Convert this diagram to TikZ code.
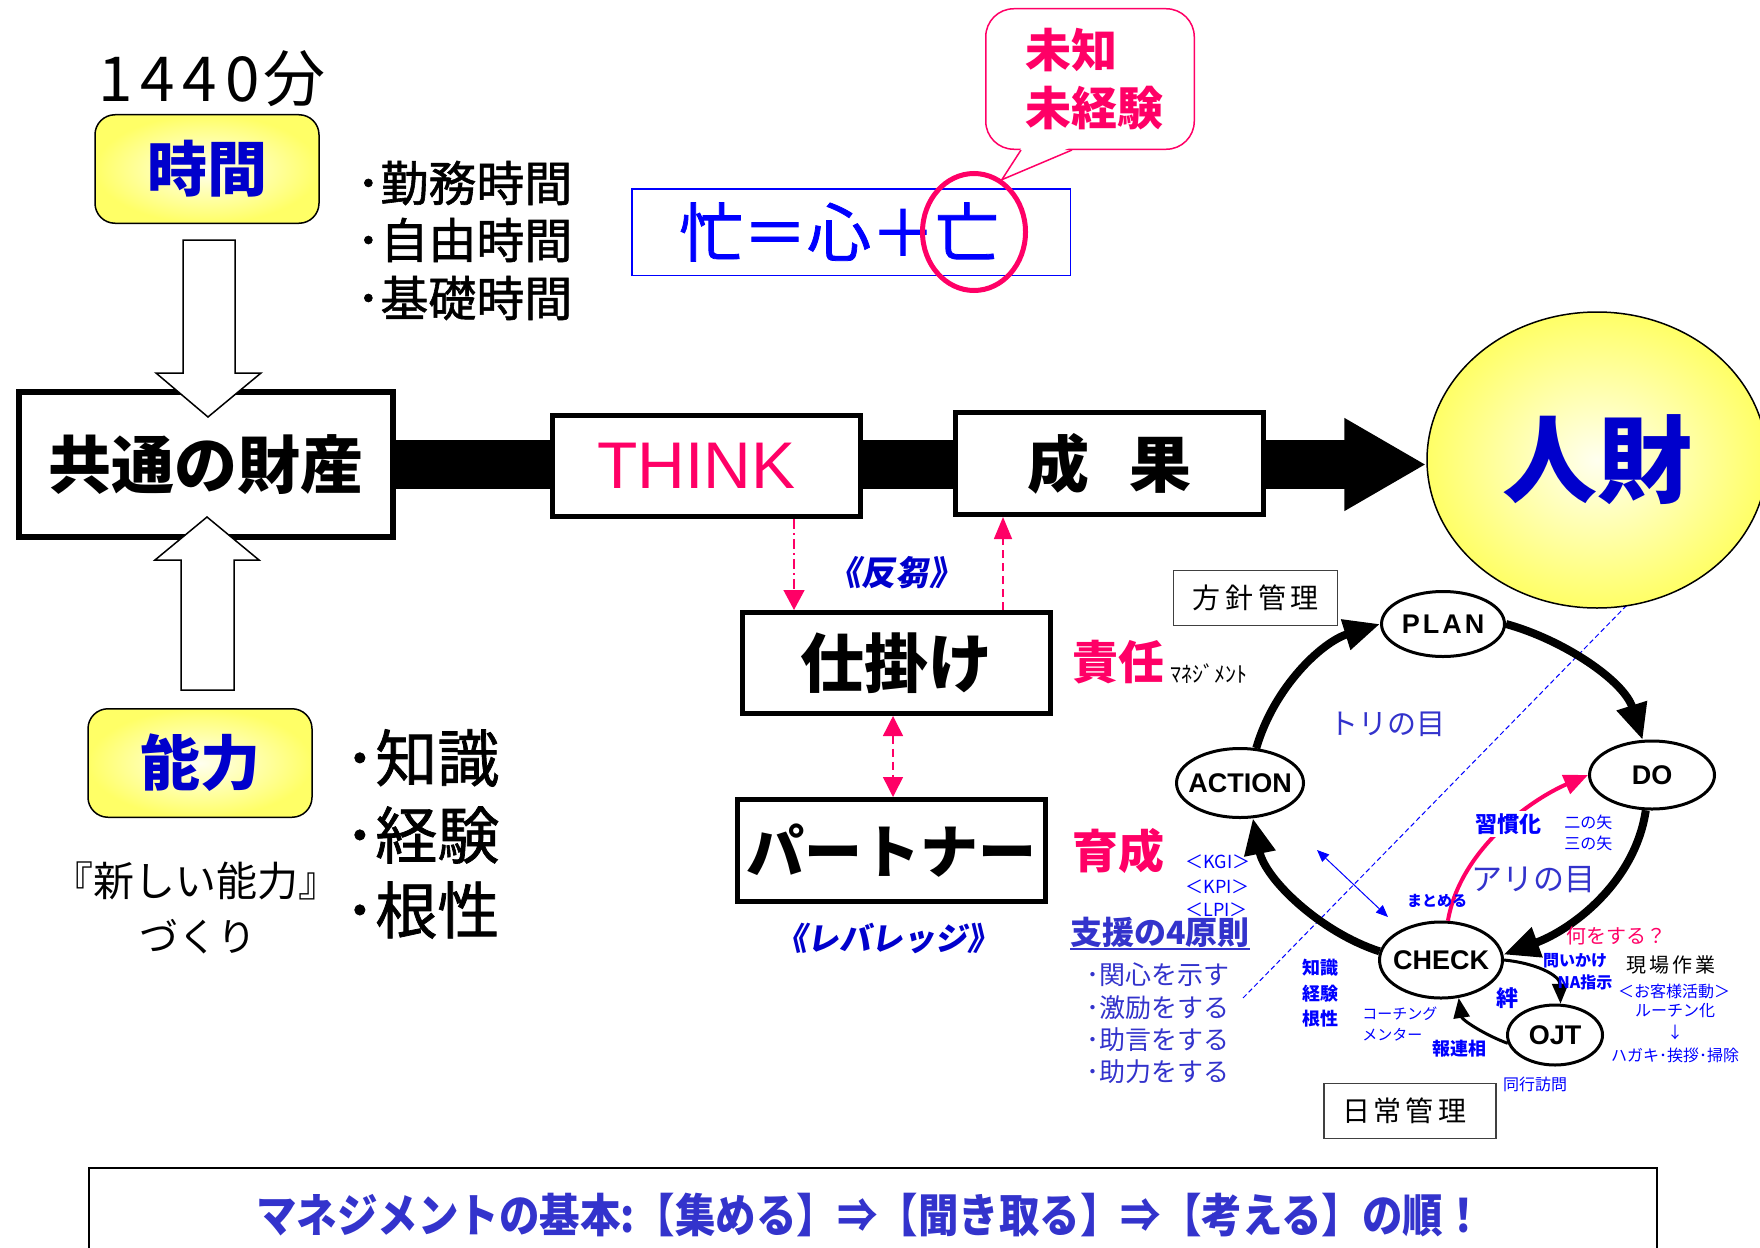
\documentclass[tikz,border=0pt]{standalone}
\usepackage{graphicx}
\usepackage{fontspec}
\setmainfont{Noto Sans CJK JP}
\newfontfamily\jpsl[FakeSlant=0.15]{Noto Sans CJK JP}
\newfontfamily\jpmed[FakeBold=1.2]{Noto Sans CJK JP}
\newfontfamily\arial{Liberation Sans}
\usetikzlibrary{arrows.meta,shapes.geometric,backgrounds,calc}
\definecolor{pinkc}{HTML}{FF0066}
\definecolor{dblue}{HTML}{0000CC}
\definecolor{mblue}{HTML}{3333CC}
\definecolor{bblue}{HTML}{0000FF}
\definecolor{yel}{HTML}{FFFF66}
\newcommand\fsz[1]{\fontsize{#1}{#1}\selectfont}
\begin{document}
\begin{tikzpicture}[x=0.5pt,y=-0.5pt, every node/.style={inner sep=0pt}]
\tikzset{
 tbox/.style={draw, line width=2.5pt, fill=white, minimum width=154pt, minimum height=50.5pt},
 rbox/.style={draw, line width=0.75pt, rounded corners=10pt, inner color=yel!10!white, outer color=yel, minimum width=112pt, minimum height=54.25pt, font=\fsz{30pt}\bfseries, text=dblue},
 cyc/.style={ellipse, draw, line width=1.5pt, fill=white, font=\arial\bfseries\fsz{13.5pt}},
 cycarrow/.style={line width=4pt, arrows={-Triangle[length=18pt,width=15pt]}},
 smallarrow/.style={line width=1.5pt, arrows={-Triangle[length=10pt,width=8pt]}},
 pdash/.style={pinkc, line width=0.75pt, dash pattern=on 4pt off 2.5pt},
 hollow/.style={draw, line width=0.75pt, fill=white},
 mgr/.style={draw=black!75, line width=0.75pt, fill=white, minimum height=27.5pt, font=\fsz{14pt}},
 band/.style={line width=24.5pt, arrows={-Triangle[length=41pt,width=43.5pt]}},
}
\useasboundingbox (0,0) rectangle (1760,1247);
\clip (0,0) rectangle (1760,1247);

% ---------- left column
\node[font=\fsz{31pt}] (t1440) at (212,79) {1\kern4pt 4\kern4pt 4\kern4pt 0\kern2pt 分};
\node[rbox] (jikan) at (207,169) {時間};
\node[anchor=west, font=\jpmed\fsz{24pt}] (k1) at (356,183) {･勤務時間};
\node[anchor=west, font=\jpmed\fsz{24pt}] (k2) at (356,240) {･自由時間};
\node[anchor=west, font=\jpmed\fsz{24pt}] (k3) at (356,298) {･基礎時間};

\node[tbox, line width=3pt, minimum width=187pt, minimum height=72.5pt, font=\fsz{31.5pt}\bfseries] (common) at (206,464.5) {共通の財産};

\node[rbox] (nouryoku) at (200,763) {能力};
\node[font=\fsz{20.5pt}] (atarashii) at (196,881) {『新しい能力』};
\node[font=\fsz{19.5pt}] (dukuri) at (198,937) {づくり};
\node[anchor=west, font=\jpmed\fsz{31pt}] (n1) at (344,758) {･知識};
\node[anchor=west, font=\jpmed\fsz{31pt}] (n2) at (344,835) {･経験};
\node[anchor=west, font=\jpmed\fsz{31pt}] (n3) at (344,910) {･根性};

% hollow block arrows
\draw[hollow] (183,240) -- (235,240) -- (235,373) -- (261,373) -- (208,417) -- (156,373) -- (183,373) -- cycle;
\draw[hollow] (181,690) -- (234,690) -- (234,560) -- (259,560) -- (207,517) -- (155,560) -- (181,560) -- cycle;

% ---------- main row
\node[tbox, text=pinkc, font=\arial\fsz{33pt}] (think) at (706.5,466) {\hspace*{-10pt}THINK};
\node[tbox, minimum height=51pt, font=\fsz{31pt}\bfseries] (seika) at (1109.5,463.5) {成\hspace{20pt}果};
\node[ellipse, draw, line width=0.75pt, inner color=yel!10!white, outer color=yel, minimum width=170pt, minimum height=148pt, font=\fsz{47.5pt}\bfseries, text=dblue] (jinzai) at (1597,460) {人財};

% ---------- top: bou box and callout
\node[draw=bblue, line width=0.75pt, minimum width=219.25pt, minimum height=43.25pt, font=\jpmed\fsz{32pt}, text=bblue] (bou) at (851,232) {\hspace*{-12pt}忙＝心＋亡};
\node[ellipse, draw=pinkc, line width=2.5pt, minimum width=51.5pt, minimum height=58.5pt] (mark) at (974,232) {};
\node[draw=pinkc, line width=0.75pt, rounded corners=14pt, fill=white, minimum width=104.25pt, minimum height=70.25pt, align=left, font=\fontsize{23pt}{29pt}\selectfont\bfseries, text=pinkc] (callout) at (1090,79) {\hspace*{4pt}未知\\\hspace*{4pt}未経験};
\path (callout.south -| 1021,0) coordinate (tl) (callout.south -| 1072,0) coordinate (tr);
\fill[white] ($(tl)+(1,-3)$) -- (mark.62) -- ($(tr)+(-1,-3)$) -- cycle;
\draw[pinkc, line width=0.75pt] (tl) -- (mark.62) -- (tr);

% ---------- middle column
\node[tbox, font=\fsz{32pt}\bfseries] (shikake) at (896.5,663) {仕掛け};
\node[tbox, minimum height=51pt, font=\fsz{29pt}\bfseries] (partner) at (891.5,850.5) {パートナー};
\draw[pdash, dash pattern=on 5pt off 2pt on 1pt off 2pt, arrows={-Triangle[length=10pt,width=10.5pt]}] (think.south -| 794,0) -- (shikake.north -| 794,0);
\draw[pdash, arrows={-Triangle[length=11pt,width=9pt]}] (shikake.north -| 1003,0) -- (seika.south -| 1003,0);
\draw[pdash, arrows={Triangle[length=10pt,width=10pt]-Triangle[length=10pt,width=10pt]}] (shikake.south -| 893,0) -- (partner.north -| 893,0);

\node[font=\jpsl\fsz{17pt}\bfseries, text=dblue] (hansu) at (895,573) {《反芻》};
\node[font=\jpsl\fsz{16pt}\bfseries, text=dblue] (lev) at (887,938) {《レバレッジ》};
\node[font=\fsz{23pt}\bfseries, text=pinkc] (sekinin) at (1118,662) {責任};
\node[anchor=west, font=\fsz{11pt}] (mane) at (1170,674) {ﾏﾈｼﾞﾒﾝﾄ};
\node[font=\fsz{23pt}\bfseries, text=pinkc] (ikusei) at (1118,851) {育成};
\node[anchor=west, font=\fsz{9pt}, text=bblue] (kgi) at (1185,862) {＜KGI＞};
\node[anchor=west, font=\fsz{9pt}, text=bblue] (kpi) at (1185,887) {＜KPI＞};
\node[anchor=west, font=\fsz{9pt}, text=bblue] (lpi) at (1185,910) {＜LPI＞};
\node[anchor=west, font=\fsz{16pt}\bfseries, text=mblue] (shien) at (1070,932) {支援の4原則};
\draw[mblue, line width=1pt] ([yshift=-0.5pt]shien.south west) -- ([yshift=-0.5pt]shien.south east);
\node[anchor=west, font=\fsz{13pt}, text=mblue] (s1) at (1086,975) {･関心を示す};
\node[anchor=west, font=\fsz{13pt}, text=mblue] (s2) at (1086,1008) {･激励をする};
\node[anchor=west, font=\fsz{13pt}, text=mblue] (s3) at (1086,1040) {･助言をする};
\node[anchor=west, font=\fsz{13pt}, text=mblue] (s4) at (1086,1072) {･助力をする};

% ---------- PDCA cycle
\node[mgr, minimum width=82pt] (houshin) at (1255.5,598) {方\hspace{2.5pt}針\hspace{2.5pt}管\hspace{2.5pt}理};
\node[mgr, minimum width=86pt] (nichijou) at (1410,1111) {\hspace*{-6pt}日\hspace{2pt}常\hspace{2pt}管\hspace{2pt}理};

\node[cyc, minimum width=61.5pt, minimum height=32.5pt] (plan) at (1443,624) {\makebox[0pt]{P\kern1.5pt L\kern1.5pt A\kern1.5pt N}};
\node[cyc, minimum width=62.5pt, minimum height=34pt] (do) at (1652,775) {\makebox[0pt]{DO}};
\node[cyc, minimum width=63.5pt, minimum height=34.5pt] (action) at (1240,783) {\makebox[0pt]{ACTION}};
\node[cyc, minimum width=61.5pt, minimum height=38pt] (check) at (1441,960) {\makebox[0pt]{CHECK}};
\node[cyc, minimum width=47.5pt, minimum height=30pt] (ojt) at (1555,1035) {\makebox[0pt]{OJT}};

\draw[cycarrow] (action.65) .. controls (1274,687) and (1322,642) .. (plan.west);
\draw[cycarrow] (plan.east) .. controls (1564,640) and (1624,681) .. (do.105);
\draw[cycarrow] (do.260) .. controls (1635,883) and (1571,930) .. (check.5);
\draw[cycarrow] (check.172) .. controls (1320,932) and (1265,879) .. (action.290);
\draw[smallarrow] (check.east) .. controls (1535,963) and (1560,975) .. (ojt.80);
\draw[smallarrow] (ojt.190) .. controls (1485,1035) and (1462,1020) .. (check.295);
\draw[pinkc, line width=2pt, arrows={-Triangle[length=12pt,width=10pt]}] (check.80) .. controls (1460,850) and (1530,800) .. (do.west);

\coordinate (e1) at (1317,850);
\coordinate (e2) at (1388,917);
\draw[bblue, line width=0.5pt, arrows={Triangle[length=6pt,width=5pt]-Triangle[length=6pt,width=5pt]}] (e1) -- (e2);

\node[font=\fsz{14.5pt}, text=mblue] (tori) at (1387,724) {トリの目};
\node[font=\fsz{15.5pt}, text=mblue] (ari) at (1533,880) {アリの目};
\node[font=\fsz{11pt}\bfseries, text=bblue, fill=white, inner sep=1pt] (shuukan) at (1508,824) {習慣化};
\node[anchor=west, font=\fsz{8pt}, text=bblue] (ni) at (1564,822) {二の矢};
\node[anchor=west, font=\fsz{8pt}, text=bblue] (san) at (1564,843) {三の矢};
\node[font=\fsz{7.5pt}\bfseries, text=bblue] (matome) at (1437,901) {まとめる};
\node[font=\fsz{10pt}, text=pinkc] (nani) at (1616,936) {何をする？};
\node[font=\fsz{8pt}\bfseries, text=bblue] (toi) at (1575,961) {問いかけ};
\node[font=\fsz{8pt}\bfseries, text=bblue] (na) at (1585,982) {NA指示};
\node[font=\fsz{10pt}] (genba) at (1671,965) {現\hspace{1.5pt}場\hspace{1.5pt}作\hspace{1.5pt}業};
\node[font=\fsz{8pt}, text=bblue] (okyaku) at (1674,991) {＜お客様活動＞};
\node[font=\fsz{8pt}, text=bblue] (routine) at (1675,1011) {ルーチン化};
\node[font=\fsz{8pt}, text=bblue] (darrow) at (1675,1032) {↓};
\node[font=\fsz{8pt}, text=bblue] (hagaki) at (1675,1055) {ハガキ･挨拶･掃除};
\node[font=\fsz{11pt}\bfseries, text=bblue] (kizuna) at (1507,998) {絆};
\node[font=\fsz{9pt}\bfseries, text=bblue] (hou) at (1459,1049) {報連相};
\node[font=\fsz{8pt}, text=bblue] (doukou) at (1535,1084) {同行訪問};
\node[anchor=west, font=\fsz{7.5pt}, text=bblue] (coach) at (1362,1014) {コーチング};
\node[anchor=west, font=\fsz{7.5pt}, text=bblue] (mentor) at (1362,1035) {メンター};
\node[font=\fsz{9pt}\bfseries, text=bblue] (chi) at (1320,968) {知識};
\node[font=\fsz{9pt}\bfseries, text=bblue] (keiken) at (1320,994) {経験};
\node[font=\fsz{9pt}\bfseries, text=bblue] (konjou) at (1320,1019) {根性};

% ---------- bottom banner
\node[draw, line width=1.2pt, anchor=north west, minimum width=784pt, minimum height=60pt] (bottombox) at (88,1167) {};
\node[font=\fsz{23pt}\bfseries, text=mblue] (basic) at (870,1215) {\scalebox{0.88}[1]{マネジメントの基本:【集める】⇒【聞き取る】⇒【考える】の順！}};

% ---------- background layer
\coordinate (d1) at (1243,998);
\coordinate (d2) at (1628,604);
\begin{scope}[on background layer]
 \fill[white] (0,0) rectangle (1760,1247);
 \draw[band] (common.east) -- (common.east -| jinzai.west);
 \draw[bblue, line width=0.5pt, dash pattern=on 2.5pt off 1.5pt] (d1) -- (d2);
\end{scope}
\end{tikzpicture}
\end{document}
